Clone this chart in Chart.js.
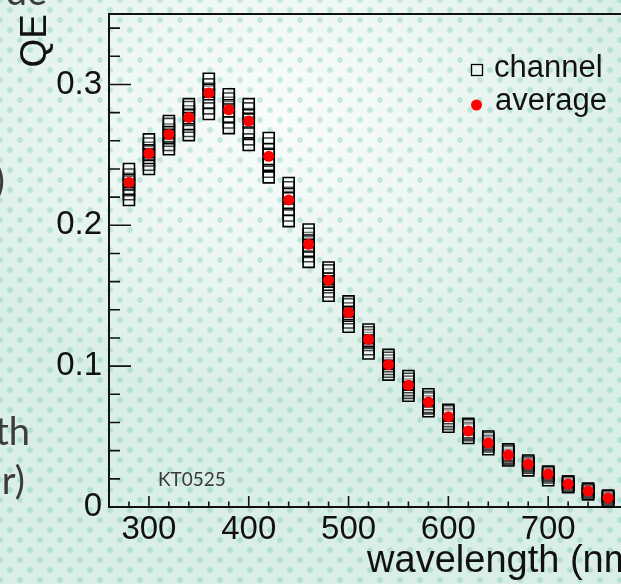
<!DOCTYPE html>
<html>
<head>
<meta charset="utf-8">
<script src="https://cdn.jsdelivr.net/npm/chart.js@4.4.1/dist/chart.umd.min.js"></script>
<style>
html, body { margin:0; padding:0; width:621px; height:584px; overflow:hidden; }
body {
  background-color:#d8eee6;
  background-image:
    radial-gradient(circle at center, rgba(110,195,168,0.34) 0, rgba(110,195,168,0.34) 2.4px, rgba(110,195,168,0) 3.3px),
    radial-gradient(circle at center, rgba(110,195,168,0.34) 0, rgba(110,195,168,0.34) 2.4px, rgba(110,195,168,0) 3.3px),
    radial-gradient(ellipse 60% 50% at 45% 20%, rgba(255,255,255,0.85) 0%, rgba(255,255,255,0.55) 45%, rgba(255,255,255,0.0) 100%);
  background-size: 20px 20px, 20px 20px, 100% 100%;
  background-position: 0 0, 10px 10px, 0 0;
}
canvas { position:absolute; left:0; top:0; }
</style>
</head>
<body>
<canvas id="c" width="660" height="584"></canvas>
<script>
// ---- data ----
const wavelengths = [280,300,320,340,360,380,400,420,440,460,480,500,520,540,560,580,600,620,640,660,680,700,720,740,760];
const averageQE  = [0.2305,0.251,0.2645,0.2766,0.294,0.282,0.274,0.249,0.218,0.1865,0.161,0.138,0.119,0.101,0.0865,0.0745,0.064,0.054,0.0454,0.0369,0.0305,0.0234,0.0163,0.0113,0.0064];
const ch1 = [0.240,0.261,0.274,0.286,0.304,0.293,0.286,0.262,0.230,0.197,0.170,0.146,0.126,0.108,0.093,0.080,0.069,0.059,0.050,0.041,0.033,0.025,0.018,0.013,0.008];
const ch2 = [0.218,0.240,0.254,0.264,0.279,0.269,0.257,0.234,0.203,0.174,0.150,0.128,0.109,0.094,0.079,0.068,0.057,0.049,0.041,0.033,0.026,0.019,0.014,0.009,0.004];
const ch3 = [0.236,0.258,0.272,0.284,0.300,0.290,0.283,0.258,0.227,0.194,0.168,0.144,0.124,0.106,0.091,0.078,0.068,0.058,0.049,0.040,0.032,0.025,0.018,0.012,0.008];
const ch4 = [0.233,0.255,0.268,0.281,0.297,0.287,0.279,0.254,0.223,0.191,0.165,0.141,0.122,0.104,0.089,0.077,0.066,0.056,0.047,0.039,0.031,0.024,0.017,0.012,0.007];
const ch5 = [0.231,0.252,0.266,0.279,0.295,0.284,0.276,0.251,0.220,0.188,0.162,0.139,0.120,0.102,0.087,0.075,0.065,0.055,0.046,0.037,0.031,0.024,0.017,0.011,0.007];
const ch6 = [0.229,0.250,0.263,0.276,0.293,0.281,0.273,0.247,0.216,0.185,0.160,0.137,0.118,0.100,0.085,0.073,0.063,0.053,0.045,0.036,0.030,0.023,0.016,0.011,0.006];
const ch7 = [0.225,0.246,0.260,0.270,0.287,0.277,0.266,0.243,0.211,0.181,0.156,0.134,0.115,0.098,0.083,0.071,0.061,0.052,0.044,0.035,0.029,0.022,0.015,0.010,0.006];
const ch8 = [0.222,0.243,0.257,0.267,0.283,0.273,0.261,0.238,0.207,0.178,0.153,0.131,0.112,0.096,0.081,0.070,0.059,0.051,0.043,0.034,0.028,0.021,0.015,0.010,0.005];
const channelSeries = [ch1,ch2,ch3,ch4,ch5,ch6,ch7,ch8];
const xTickValues = [300,400,500,600,700];
const yTickValues = [0,0.1,0.2,0.3];
const seriesLabels = ['channel','average'];

const FONT = "'Liberation Sans', Arial, Helvetica, sans-serif";
Chart.defaults.font.family = FONT;
Chart.defaults.color = '#111';

const toXY = arr => wavelengths.map((w,i) => ({x:w, y:arr[i]}));

const datasets = [{
  label: seriesLabels[1],
  data: toXY(averageQE),
  pointStyle: 'circle',
  pointRadius: 5.5,
  pointBorderWidth: 0,
  backgroundColor: '#ff0000',
  borderColor: '#ff0000',
  order: 0,
  clip: false
}];
channelSeries.forEach((s, k) => datasets.push({
  label: seriesLabels[0],
  data: toXY(s),
  pointStyle: 'rect',
  pointRadius: 7.8,
  pointBorderWidth: 1.6,
  borderColor: '#000',
  backgroundColor: 'rgba(255,255,255,0.25)',
  order: 1,
  clip: false,
  isFirstChannel: k === 0
}));

const zeroPad = s => { s.paddingTop = 0; s.paddingBottom = 0; s.paddingLeft = 0; s.paddingRight = 0; };

const framePlugin = {
  id: 'frame',
  beforeDatasetsDraw(chart) {
    const {ctx, chartArea:a, scales:{x, y}} = chart;
    ctx.save();
    ctx.strokeStyle = '#111';
    ctx.lineWidth = 2;
    ctx.strokeRect(a.left, a.top, a.right - a.left, a.bottom - a.top);
    ctx.lineWidth = 1.6;
    ctx.beginPath();
    for (let i = 0; i <= 17; i++) {
      const py = y.getPixelForValue(i * 0.02);
      ctx.moveTo(a.left, py);
      ctx.lineTo(a.left + (i % 5 === 0 ? 22 : 11), py);
    }
    for (let i = 0; i <= 27; i++) {
      const v = 260 + i * 20;
      const px = x.getPixelForValue(v);
      ctx.moveTo(px, a.bottom);
      ctx.lineTo(px, a.bottom - (v % 100 === 0 ? 11 : 5.5));
    }
    ctx.stroke();
    ctx.restore();
  }
};

const legendPlugin = {
  id: 'rootLegend',
  afterDraw(chart) {
    const {ctx} = chart;
    const ds = chart.data.datasets;
    const chDs = ds.find(d => d.isFirstChannel);
    const avDs = ds.find(d => d.label === seriesLabels[1]);
    ctx.save();
    ctx.strokeStyle = chDs.borderColor;
    ctx.lineWidth = 1.3;
    ctx.strokeRect(471.5, 64.5, 11, 11);
    ctx.font = "31px " + FONT;
    ctx.fillStyle = '#111';
    ctx.textBaseline = 'alphabetic';
    ctx.textAlign = 'left';
    ctx.fillText(chDs.label, 494, 77);
    ctx.fillStyle = avDs.backgroundColor;
    ctx.beginPath();
    ctx.arc(476.5, 105, 5.5, 0, Math.PI * 2);
    ctx.fill();
    ctx.fillStyle = '#111';
    ctx.fillText(avDs.label, 495, 110);
    ctx.font = "19px Lato, 'DejaVu Sans', sans-serif";
    ctx.fillStyle = '#3a3a3a';
    ctx.fillText('KT0525', 158, 486);
    ctx.font = "38px Lato, 'Open Sans', sans-serif";
    ctx.fillStyle = '#3c3c3c';
    ctx.textAlign = 'right';
    ctx.fillText('de', 47, 5);
    ctx.fillText(')', 5, 194);
    ctx.fillText('th', 30, 445);
    ctx.fillText('r)', 25, 494);
    ctx.restore();
  }
};

new Chart(document.getElementById('c'), {
  type: 'scatter',
  data: { datasets },
  options: {
    responsive: false,
    animation: false,
    devicePixelRatio: 1,
    layout: { autoPadding: false, padding: { top: 14, right: 12, left: 0, bottom: 0 } },
    plugins: { legend: { display: false }, tooltip: { enabled: false } },
    scales: {
      x: {
        type: 'linear', min: 260, max: 800,
        grid: { display: false, drawTicks: false },
        border: { display: false },
        afterBuildTicks: s => { s.ticks = xTickValues.map(v => ({value: v})); },
        afterFit: s => { s.height = 77; zeroPad(s); },
        ticks: { font: { size: 33 }, color: '#111', padding: 3, maxRotation: 0, autoSkip: false,
                 callback: v => String(v) },
        title: { display: true, text: 'wavelength (nm)', align: 'end', color: '#111',
                 font: { size: 38 }, padding: { top: 0, bottom: 0 } }
      },
      y: {
        type: 'linear', min: 0, max: 0.35,
        grid: { display: false, drawTicks: false },
        border: { display: false },
        afterBuildTicks: s => { s.ticks = yTickValues.map(v => ({value: v})); },
        afterFit: s => { s.width = 109; zeroPad(s); },
        ticks: { font: { size: 33 }, color: '#111', padding: 7, autoSkip: false,
                 callback: v => String(v) },
        title: { display: true, text: 'QE', align: 'end', color: '#111',
                 font: { size: 37 }, padding: { top: 14, bottom: 0 } }
      }
    }
  },
  plugins: [framePlugin, legendPlugin]
});
</script>
</body>
</html>
